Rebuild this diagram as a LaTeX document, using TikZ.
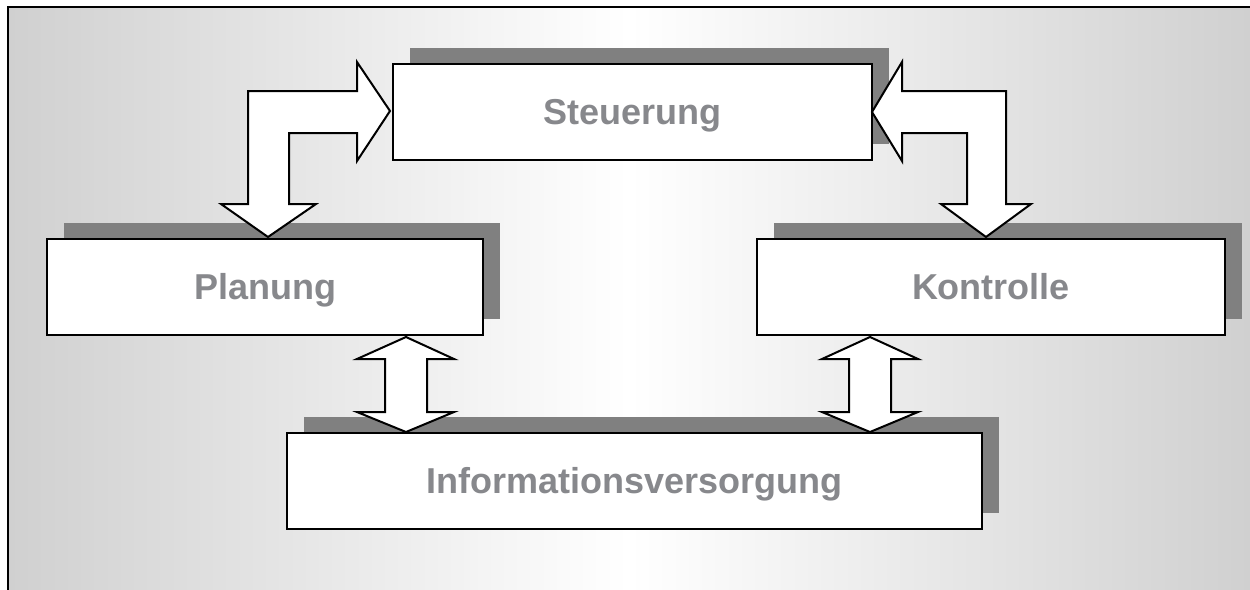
\documentclass[tikz,border=0pt]{standalone}
\usepackage{fontspec}
\setmainfont{Liberation Sans}
\usetikzlibrary{shadows}
\definecolor{panelgray}{RGB}{208,208,208}
\definecolor{shadowgray}{RGB}{128,128,128}
\definecolor{labelgray}{RGB}{135,136,140}
\begin{document}
\begin{tikzpicture}[x=0.5pt,y=-0.5pt,
  stagebox/.style={draw=black, line width=1.25pt, fill=white, inner sep=0pt,
    minimum height=48pt, text height=12.9pt, text depth=0pt,
    font=\fontsize{18}{22}\selectfont\bfseries, text=labelgray,
    general shadow={fill=shadowgray, shadow xshift=8.25pt, shadow yshift=8pt}},
  blockarrow/.style={draw=black, line width=1pt, fill=white, line join=miter}]
\useasboundingbox (0,0) rectangle (1250,590);
% panel with horizontal gradient and its frame
\shade[left color=panelgray, right color=panelgray, middle color=white]
  (8,7) rectangle (1250,590);
\draw[line width=0.8pt] (8,590) -- (8,7) -- (1250,7);

% the four stages
\node[stagebox, minimum width=239.5pt] (steu)  at (632.5,112) {Steuerung};
\node[stagebox, minimum width=218pt]   (plan)  at (265,287)   {Planung};
\node[stagebox, minimum width=234pt]   (kontr) at (991,287)   {Kontrolle};
\node[stagebox, minimum width=347.5pt] (info)  at (634.5,481) {Informationsversorgung};

% elbow arrow Planung <-> Steuerung
\draw[blockarrow] (390,111) -- (357,161) -- (357,133) -- (289,133) -- (289,204)
  -- (316,204) -- (268,237) -- (221,204) -- (248,204) -- (248,91) -- (357,91)
  -- (357,62) -- cycle;
% elbow arrow Steuerung <-> Kontrolle
\draw[blockarrow] (872,112) -- (902,62) -- (902,91) -- (1006,91) -- (1006,204)
  -- (1031,204) -- (986,237) -- (941,204) -- (967,204) -- (967,133) -- (902,133)
  -- (902,161) -- cycle;
% double arrow Planung <-> Informationsversorgung
\draw[blockarrow] (406,337) -- (454,359) -- (427,359) -- (427,412) -- (454,412)
  -- (406,432) -- (357,412) -- (385,412) -- (385,359) -- (357,359) -- cycle;
% double arrow Kontrolle <-> Informationsversorgung
\draw[blockarrow] (870,337) -- (918,359) -- (891,359) -- (891,412) -- (918,412)
  -- (870,432) -- (822,412) -- (849,412) -- (849,359) -- (822,359) -- cycle;
\end{tikzpicture}
\end{document}
